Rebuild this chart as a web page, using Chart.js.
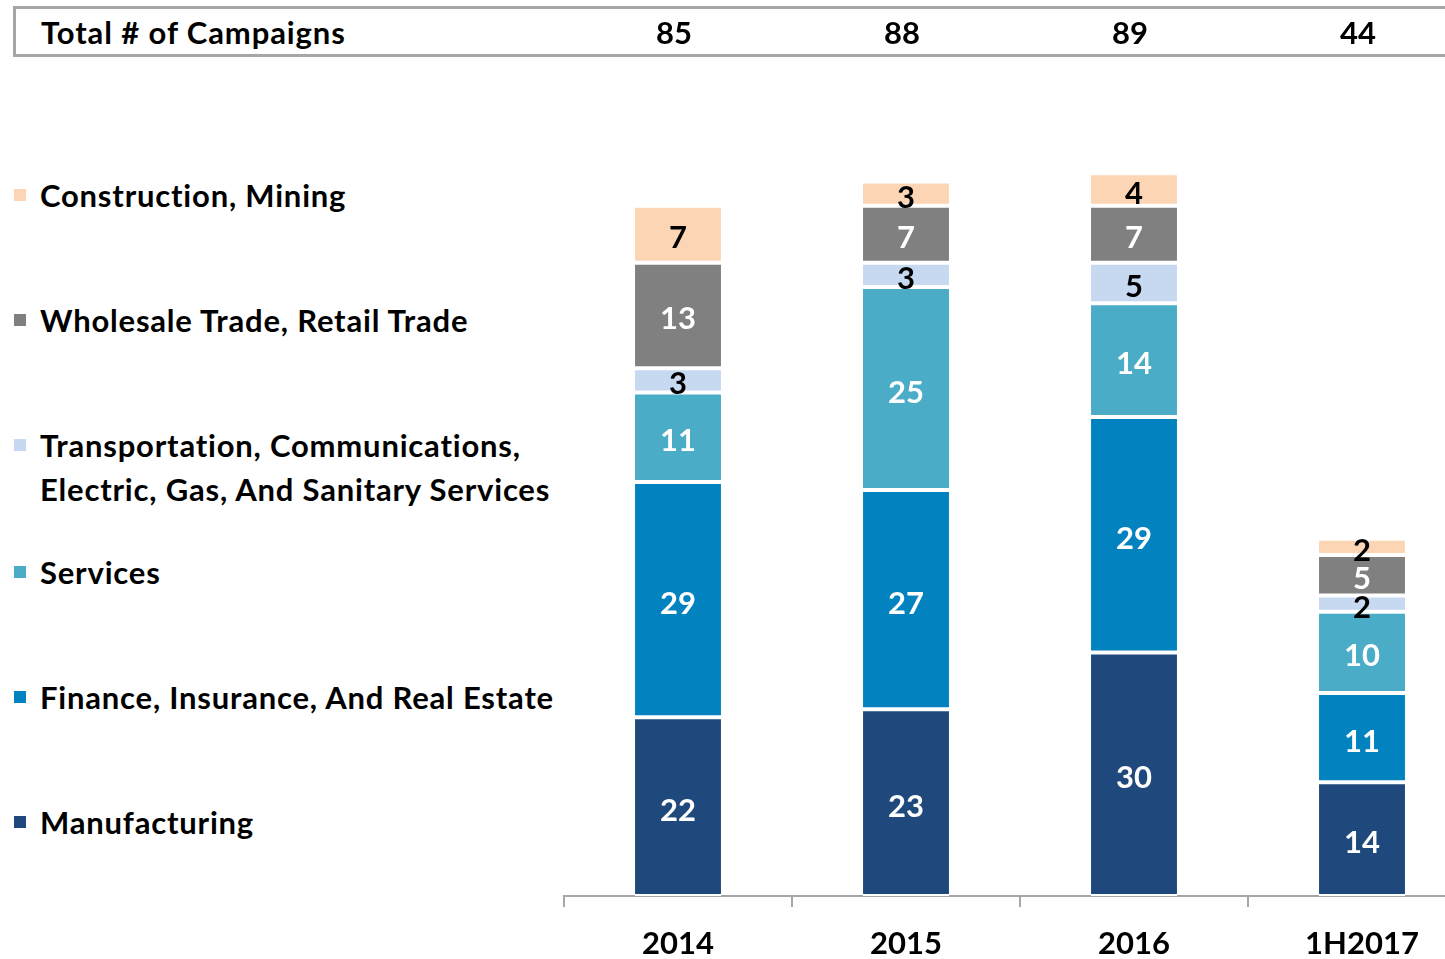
<!DOCTYPE html>
<html>
<head>
<meta charset="utf-8">
<script src="https://cdn.jsdelivr.net/npm/chart.js@4/dist/chart.umd.min.js"></script>
<style>
  body { margin: 0; width: 1445px; height: 959px; overflow: hidden; background: #fff; font-family: Lato, "Open Sans", sans-serif; }
  #header { position: absolute; left: 13px; top: 6px; width: 1500px; height: 45px; border: 3px solid #a6a6a6; }
  #header span { position: absolute; left: 25px; top: 0; line-height: 47px; font-weight: bold; font-size: 31px; letter-spacing: 0.9px; color: #000; }
  #legend { position: absolute; left: 14px; top: 0; }
  .item { position: absolute; left: 0; width: 600px; font-weight: bold; font-size: 31px; letter-spacing: 0.8px; line-height: 44px; color: #000; white-space: nowrap; }
  .item i { position: absolute; left: 0; top: 16px; width: 12px; height: 12px; }
  .item span { display: block; margin-left: 26px; }
  #wrap { position: absolute; left: 0; top: 0; width: 1500px; height: 959px; }
</style>
</head>
<body>
<div id="header"><span>Total # of Campaigns</span></div>
<div id="legend"></div>
<div id="wrap"><canvas id="campaignsChart" width="1500" height="959"></canvas></div>
<script>
const years = ['2014', '2015', '2016', '1H2017'];

const manufacturing = [22, 23, 30, 14];
const finance = [29, 27, 29, 11];
const services = [11, 25, 14, 10];
const transportation = [3, 3, 5, 2];
const wholesale = [13, 7, 7, 5];
const construction = [7, 3, 4, 2];

const seriesNames = ['Manufacturing', 'Finance, Insurance, And Real Estate', 'Services',
  'Transportation, Communications,\nElectric, Gas, And Sanitary Services',
  'Wholesale Trade, Retail Trade', 'Construction, Mining'];
const seriesColors = ['#1f497d', '#0283c0', '#4aacc6', '#c6d9f1', '#808080', '#fcd5b5'];
const labelColors = ['#fff', '#fff', '#fff', '#000', '#fff', '#000'];
const seriesData = [manufacturing, finance, services, transportation, wholesale, construction];

// legend, top item first
const legendTops = [173, 298, 423, 550, 675, 800];
const legendEl = document.getElementById('legend');
for (let k = 0; k < seriesNames.length; k++) {
  const i = seriesNames.length - 1 - k;
  const div = document.createElement('div');
  div.className = 'item';
  div.style.top = legendTops[k] + 'px';
  div.innerHTML = '<i style="background:' + seriesColors[i] + '"></i><span>' +
    seriesNames[i].replace('\n', '<br>') + '</span>';
  legendEl.appendChild(div);
}

const segmentLabels = {
  id: 'segmentLabels',
  afterDatasetsDraw(chart) {
    const ctx = chart.ctx;
    ctx.save();
    ctx.font = 'bold 31px Lato';
    ctx.textAlign = 'center';
    ctx.textBaseline = 'middle';
    chart.data.datasets.forEach((ds, d) => {
      chart.getDatasetMeta(d).data.forEach((bar, i) => {
        const p = bar.getProps(['x', 'y', 'base'], true);
        ctx.fillStyle = labelColors[d];
        ctx.fillText(ds.data[i], p.x, (p.y + p.base) / 2 + 4);
      });
    });
    // totals in the header row
    const xs = chart.scales.x;
    ctx.fillStyle = '#000';
    years.forEach((y, i) => {
      const total = seriesData.reduce((a, s) => a + s[i], 0);
      ctx.fillText(total, xs.getPixelForValue(i) - 4, 34);
    });
    ctx.restore();
  }
};

const ctx = document.getElementById('campaignsChart').getContext('2d');
new Chart(ctx, {
  type: 'bar',
  data: {
    labels: years,
    datasets: seriesData.map((data, i) => ({
      label: seriesNames[i],
      data: data,
      backgroundColor: seriesColors[i],
      borderColor: '#ffffff',
      borderWidth: { top: 2, bottom: 2, left: 0, right: 0 },
      borderSkipped: false,
      categoryPercentage: 1,
      barPercentage: 0.377
    }))
  },
  options: {
    responsive: false,
    animation: false,
    devicePixelRatio: 1,
    layout: { padding: { left: 564, right: 24, top: 84, bottom: 0 } },
    plugins: { legend: { display: false }, tooltip: { enabled: false } },
    scales: {
      x: {
        stacked: true,
        afterFit: (scale) => { scale.height = 63; },
        border: { display: true, color: '#a6a6a6', width: 2 },
        grid: { display: true, drawOnChartArea: false, drawTicks: true, tickLength: 11, color: '#a6a6a6', lineWidth: 2 },
        ticks: { color: '#000', font: { family: 'Lato', weight: 'bold', size: 31 }, padding: 18 }
      },
      y: {
        stacked: true,
        display: false,
        min: 0,
        max: 100
      }
    }
  },
  plugins: [segmentLabels]
});
</script>
</body>
</html>
